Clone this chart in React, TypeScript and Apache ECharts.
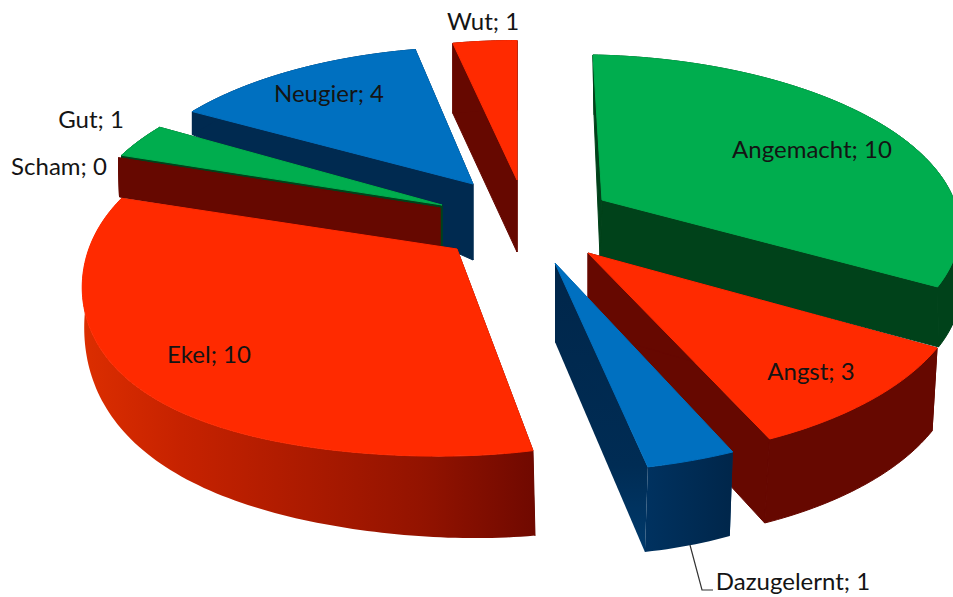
import React, { useEffect, useRef } from "react";
import * as echarts from "echarts";

// Exploded perspective pie: every wedge's sweep comes from its value.
const categories = ["Angemacht", "Angst", "Dazugelernt", "Ekel", "Scham", "Gut", "Neugier", "Wut"];
const values = [10, 3, 1, 10, 0, 1, 4, 1];
const families = ["green", "red", "blue", "red", "red", "green", "blue", "red"];

// Far wedges are painted before near ones.
const paintOrder = [7, 6, 5, 4, 3, 0, 1, 2];

const PERSPECTIVE = 0.15;
const WIDTH = 953;
const HEIGHT = 597;

const topColors: Record<string, string> = { green: "#00ad4e", red: "#ff2a00", blue: "#0070c0" };
const wallColors: Record<string, string> = { green: "#00421a", red: "#660800", blue: "#002a50" };

// Per-wedge placement after the explosion: tip, arc centre, radii, rim bow and wall heights.
type Placement = {
  tip: number[]; centre: number[]; rx: number; ry: number;
  bow: number; bowSkew?: number; bowPower?: number;
  tipDepth: number; tipLean?: number; rimDepth: number[]; lean: number; rimFill?: any; cutFill?: any;
};
const horizontal = (stops: [number, string][]) =>
  new echarts.graphic.LinearGradient(0, 0, 1, 0, stops.map(([offset, color]) => ({ offset, color })));
const vertical = (stops: [number, string][]) =>
  new echarts.graphic.LinearGradient(0, 0, 0, 1, stops.map(([offset, color]) => ({ offset, color })));

const placements: Placement[] = [
  { tip: [602, 200], centre: [593, 198], rx: 368, ry: 164.5, bow: 0.03, tipDepth: 57, tipLean: -2, rimDepth: [60, 60, 60], lean: 1 },
  { tip: [588, 253], centre: [600, 253], rx: 360, ry: 175.7, bow: 0, tipDepth: 78, rimDepth: [83, 84, 84], lean: -5 },
  {
    tip: [555, 263], centre: [557, 272], rx: 373, ry: 170, bow: 0, tipDepth: 79, rimDepth: [84, 85, 85], lean: -3,
    rimFill: horizontal([[0, "#003260"], [1, "#00264a"]]),
    cutFill: vertical([[0, "#00264a"], [0.7, "#002c54"], [1, "#003a6c"]]),
  },
  {
    tip: [457, 249], centre: [446, 250], rx: 357, ry: 175,
    bow: -0.05, bowSkew: 0.9, bowPower: 4,
    tipDepth: 80, rimDepth: [85, 60, 16], lean: 2,
    rimFill: horizontal([[0, "#dc2e00"], [0.22, "#c62200"], [0.5, "#ab1a00"], [0.75, "#931300"], [1, "#700900"]]),
  },
  { tip: [440, 208], centre: [443, 208], rx: 357, ry: 170, bow: 0, tipDepth: 39, rimDepth: [39, 39, 39], lean: 1 },
  { tip: [442, 205], centre: [457, 204], rx: 369, ry: 165, bow: 0, tipDepth: 42, rimDepth: [40, 40, 40], lean: 0 },
  { tip: [473, 184], centre: [480, 186], rx: 357, ry: 160, bow: 0, tipDepth: 76, rimDepth: [23, 20, 18], lean: 0 },
  { tip: [517, 180], centre: [517, 184], rx: 354, ry: 165, bow: 0, tipDepth: 72, rimDepth: [70, 70, 70], lean: 0 },
];

const labelAnchors = [
  [812, 148.5], [811, 370.5], [793, 580.5], [209, 353.5], [59, 165.5], [91, 118.5], [329, 92.5], [483, 20.5],
];
const leaderPoints = [[690, 545], [702, 590], [713, 590]];

const total = values.reduce((sum, v) => sum + v, 0);
const sweepStart = (index: number) =>
  (values.slice(0, index).reduce((sum, v) => sum + v, 0) / total) * 360;

// Rim height along a wedge, fitted through its start, middle and end.
const rimDepthAt = (d: number[], t: number) =>
  d[0] * (1 - t) * (1 - 2 * t) + d[1] * 4 * t * (1 - t) + d[2] * t * (2 * t - 1);

function rimPoint(p: Placement, degrees: number, t: number) {
  const a = (degrees * Math.PI) / 180;
  const across = Math.sin(a);
  const toward = -Math.cos(a);
  const w = 1 - PERSPECTIVE * toward;
  const swell = Math.pow(Math.sin(Math.PI * Math.pow(t, p.bowSkew ?? 1)), p.bowPower ?? 1);
  const bowed = 1 - p.bow * swell;
  return [p.centre[0] + (p.rx * across * bowed) / w, p.centre[1] + (p.ry * toward * bowed) / w];
}

function renderWedge(params: any, api: any) {
  const index = api.value(0);
  const value = api.value(1);
  const p = placements[index];
  const family = families[index];
  const from = sweepStart(index);
  const sweep = (value / total) * 360;
  const steps = Math.max(1, Math.ceil(sweep));

  const top: number[][] = [];
  const bottom: number[][] = [];
  for (let i = 0; i <= steps; i++) {
    const t = i / steps;
    const pt = rimPoint(p, from + sweep * t, t);
    top.push(pt);
    bottom.push([pt[0] + p.lean, pt[1] + rimDepthAt(p.rimDepth, t)]);
  }
  const tipBottom = [p.tip[0] + (p.tipLean ?? 0), p.tip[1] + p.tipDepth];
  const wall = wallColors[family];
  const face = (points: number[][], fill: any) => ({
    type: "polygon",
    shape: { points },
    style: { fill, stroke: typeof fill === "string" ? fill : undefined, lineWidth: 1 },
  });

  const children: any[] = [
    face([p.tip, top[steps], bottom[steps], tipBottom], p.cutFill || wall),
    face([p.tip, top[0], bottom[0], tipBottom], p.cutFill || wall),
    face([...top, ...bottom.slice().reverse()], p.rimFill || wall),
  ];
  if (sweep > 0) children.push(face([p.tip, ...top], topColors[family]));
  return { type: "group", children };
}

export default function App() {
  const ref = useRef<HTMLDivElement>(null);

  useEffect(() => {
    document.body.style.margin = "0";
    const chart = echarts.init(ref.current!, undefined, { renderer: "svg" });
    chart.setOption({
      animation: false,
      backgroundColor: "#ffffff",
      series: [
        {
          type: "custom",
          coordinateSystem: "none",
          silent: true,
          renderItem: renderWedge,
          data: paintOrder.map((i) => [i, values[i]]),
        },
      ],
      graphic: [
        {
          type: "polyline",
          z: 20,
          shape: { points: leaderPoints },
          style: { stroke: "#333333", lineWidth: 1.2, fill: "none" },
        },
        ...categories.map((name, i) => ({
          type: "text",
          z: 20,
          x: labelAnchors[i][0],
          y: labelAnchors[i][1],
          style: {
            text: `${name}; ${values[i]}`,
            font: "24px Lato",
            fill: "#141414",
            align: "center",
            verticalAlign: "middle",
          },
        })),
      ],
    });
    return () => chart.dispose();
  }, []);

  return (
    <div
      ref={ref}
      style={{ position: "absolute", left: 0, top: 0, width: WIDTH, height: HEIGHT }}
    />
  );
}
